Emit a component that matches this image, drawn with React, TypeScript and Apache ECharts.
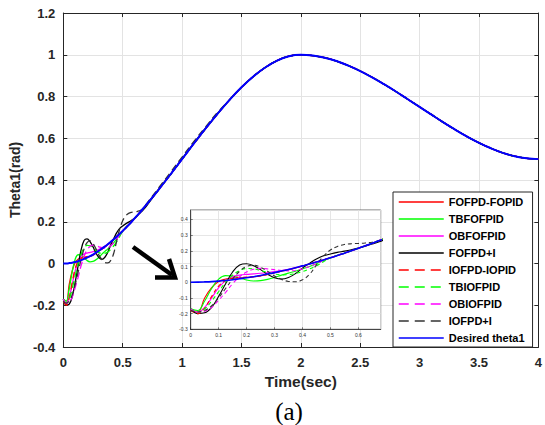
import React, { useEffect, useRef } from "react";
import * as echarts from "echarts";

// time grid (s)
const time = [
  0, 0.025, 0.05, 0.075, 0.1, 0.125, 0.15, 0.175, 0.2, 0.225, 0.25, 0.275, 0.3, 0.325, 0.35,
  0.375, 0.4, 0.425, 0.45, 0.475, 0.5, 0.525, 0.55, 0.575, 0.6, 0.625, 0.65, 0.675, 0.7,
  0.8, 0.9, 1.0, 1.1, 1.2, 1.3, 1.4, 1.5, 1.6, 1.7, 1.8, 1.9, 2.0,
  2.1, 2.2, 2.3, 2.4, 2.5, 2.6, 2.7, 2.8, 2.9, 3.0, 3.1, 3.2, 3.3, 3.4, 3.5, 3.6, 3.7, 3.8, 3.9, 4.0,
];

// Desired theta1
const desired = [
  0, 0.0005, 0.002, 0.004, 0.007, 0.011, 0.016, 0.022, 0.028, 0.035, 0.043, 0.052, 0.061, 0.071, 0.081,
  0.092, 0.104, 0.116, 0.129, 0.142, 0.156, 0.17, 0.185, 0.2, 0.216, 0.232, 0.248, 0.265, 0.282,
  0.352, 0.425, 0.5, 0.575, 0.648, 0.718, 0.784, 0.844, 0.896, 0.939, 0.972, 0.993, 1.0,
  0.996, 0.986, 0.97, 0.948, 0.922, 0.892, 0.859, 0.824, 0.787, 0.75, 0.713, 0.676, 0.641, 0.608, 0.578,
  0.552, 0.53, 0.514, 0.504, 0.5,
];

// controller responses (early transient; afterwards they lie on the desired curve)
const fofpdFopid = [-0.18, -0.19, -0.1, -0.035, 0.005, 0.02, 0.026, 0.028, 0.03, 0.034, 0.04, 0.05, 0.06, 0.07, 0.08, 0.091, 0.103];
const tbfofpid = [-0.17, -0.18, -0.12, -0.04, 0.02, 0.042, 0.04, 0.028, 0.014, 0.008, 0.01, 0.018, 0.03, 0.045, 0.058, 0.07, 0.085, 0.1, 0.118, 0.138, 0.155];
const obfofpid = [-0.18, -0.19, -0.16, -0.1, -0.035, 0.01, 0.035, 0.045, 0.05, 0.053, 0.057, 0.062, 0.068, 0.075, 0.083, 0.093, 0.104];
const fofpdI = [
  -0.17, -0.2, -0.195, -0.16, -0.09, -0.01, 0.065, 0.11, 0.118, 0.105, 0.08, 0.05, 0.028, 0.02, 0.03,
  0.055, 0.09, 0.12, 0.148, 0.168, 0.18, 0.19, 0.198, 0.207, 0.217, 0.23, 0.244, 0.258, 0.275,
];
const iofpdIopid = [-0.18, -0.2, -0.165, -0.09, -0.025, 0.01, 0.025, 0.03, 0.033, 0.036, 0.042, 0.05, 0.06, 0.07, 0.08, 0.091, 0.103];
const tbiofpid = [-0.17, -0.19, -0.17, -0.12, -0.06, 0.0, 0.045, 0.075, 0.087, 0.085, 0.075, 0.062, 0.052, 0.047, 0.048, 0.055, 0.068, 0.085, 0.105, 0.13, 0.155, 0.172];
const obiofpid = [-0.17, -0.19, -0.185, -0.16, -0.115, -0.065, -0.01, 0.035, 0.065, 0.082, 0.088, 0.085, 0.08, 0.075, 0.072, 0.075, 0.085, 0.1, 0.118, 0.138, 0.157];
const iofpdI = [
  -0.18, -0.19, -0.18, -0.15, -0.1, -0.04, 0.02, 0.07, 0.1, 0.108, 0.095, 0.07, 0.04, 0.018, 0.005,
  0.003, 0.015, 0.05, 0.11, 0.165, 0.205, 0.228, 0.24, 0.245, 0.247, 0.25, 0.255, 0.265, 0.285,
  0.36, 0.435, 0.51, 0.585, 0.656, 0.725,
];

const xTicks = { min: 0, max: 4, interval: 0.5 };
const yTicks = { min: -0.4, max: 1.2, interval: 0.2 };
const insetX = { min: 0, max: 0.68, interval: 0.1 };
const insetY = { min: -0.3, max: 0.46, interval: 0.1 };

const seriesDefs = [
  { name: "FOFPD-FOPID", vals: fofpdFopid, color: "#ff0000", type: "solid" },
  { name: "TBFOFPID", vals: tbfofpid, color: "#00ff00", type: "solid" },
  { name: "OBFOFPID", vals: obfofpid, color: "#ff00ff", type: "solid" },
  { name: "FOFPD+I", vals: fofpdI, color: "#000000", type: "solid" },
  { name: "IOFPD-IOPID", vals: iofpdIopid, color: "#ff0000", type: "dashed" },
  { name: "TBIOFPID", vals: tbiofpid, color: "#00ff00", type: "dashed" },
  { name: "OBIOFPID", vals: obiofpid, color: "#ff00ff", type: "dashed" },
  { name: "IOFPD+I", vals: iofpdI, color: "#333333", type: "dashed" },
  { name: "Desired theta1", vals: desired, color: "#0000ff", type: "solid" },
];

const FONT = "'Liberation Sans', Arial, Helvetica, sans-serif";

export default function App() {
  const ref = useRef<HTMLDivElement>(null);

  useEffect(() => {
    if (!ref.current) return;
    const chart = echarts.init(ref.current, undefined, { renderer: "svg" });

    const full = (vals: number[]) => time.map((t, i) => [t, i < vals.length ? vals[i] : desired[i]]);

    const series: any[] = [];
    seriesDefs.forEach((d) => {
      const isDesired = d.name === "Desired theta1";
      const ls = {
        color: d.color,
        width: isDesired ? 2 : 1.3,
        type: d.type === "dashed" ? [7, 4] : "solid",
      };
      series.push({
        name: d.name,
        type: "line",
        xAxisIndex: 0,
        yAxisIndex: 0,
        data: full(d.vals),
        smooth: 0.4,
        symbol: "none",
        showSymbol: false,
        lineStyle: ls,
        itemStyle: { color: d.color },
        z: 2,
      });
      series.push({
        name: d.name,
        type: "line",
        xAxisIndex: 1,
        yAxisIndex: 1,
        data: full(d.vals).slice(0, 31),
        smooth: 0.4,
        symbol: "none",
        showSymbol: false,
        lineStyle: { ...ls, width: isDesired ? 1.6 : 1.1, type: d.type === "dashed" ? [4, 3] : "solid" },
        itemStyle: { color: d.color },
        clip: true,
        z: 6,
      });
    });

    const mainLabel = { fontFamily: FONT, fontWeight: "bold", fontSize: 13, color: "#262626" };
    const insetLabel = { fontFamily: FONT, fontSize: 5, color: "#333" };

    chart.setOption({
      animation: false,
      backgroundColor: "#ffffff",
      grid: [
        { left: 62, top: 13, width: 480, height: 334, containLabel: false },
        {
          left: 190.7, top: 210, width: 190, height: 119.3,
          show: true, backgroundColor: "#ffffff", borderColor: "#444", borderWidth: 0.8, z: 4,
        },
      ],
      xAxis: [
        {
          type: "value", gridIndex: 0, ...xTicks,
          name: "Time(sec)", nameLocation: "middle", nameGap: 26,
          nameTextStyle: { fontFamily: FONT, fontWeight: "bold", fontSize: 15.5, color: "#262626" },
          axisLine: { onZero: false, lineStyle: { color: "#262626", width: 1 } },
          axisTick: { inside: true, length: 4, lineStyle: { color: "#262626" } },
          axisLabel: { ...mainLabel, margin: 9 },
          splitLine: { show: true, lineStyle: { color: "#e3e3e3", width: 1 } },
        },
        {
          type: "value", gridIndex: 1, ...insetX, z: 5,
          axisLine: { onZero: false, lineStyle: { color: "#222", width: 0.8 } },
          axisTick: { inside: true, length: 2, lineStyle: { color: "#222", width: 0.6 } },
          axisLabel: { ...insetLabel, margin: 3, showMaxLabel: false },
          splitLine: { show: true, lineStyle: { color: "#e0e0e0", width: 0.8 } },
        },
        {
          type: "value", gridIndex: 0, position: "top", ...xTicks,
          axisLine: { onZero: false, lineStyle: { color: "#262626", width: 1 } },
          axisTick: { inside: true, length: 4, lineStyle: { color: "#262626" } },
          axisLabel: { show: false },
          splitLine: { show: false },
        },
      ],
      yAxis: [
        {
          type: "value", gridIndex: 0, ...yTicks,
          name: "Theta1(rad)", nameLocation: "middle", nameGap: 37,
          nameTextStyle: { fontFamily: FONT, fontWeight: "bold", fontSize: 14, color: "#262626" },
          axisLine: { show: true, onZero: false, lineStyle: { color: "#262626", width: 1 } },
          axisTick: { show: true, inside: true, length: 4, lineStyle: { color: "#262626" } },
          axisLabel: { ...mainLabel, margin: 8 },
          splitLine: { show: true, lineStyle: { color: "#e3e3e3", width: 1 } },
        },
        {
          type: "value", gridIndex: 1, ...insetY, z: 5,
          axisLine: { show: true, onZero: false, lineStyle: { color: "#222", width: 0.8 } },
          axisTick: { show: true, inside: true, length: 2, lineStyle: { color: "#222", width: 0.6 } },
          axisLabel: { ...insetLabel, margin: 3, showMaxLabel: false },
          splitLine: { show: true, lineStyle: { color: "#e0e0e0", width: 0.8 } },
        },
        {
          type: "value", gridIndex: 0, position: "right", ...yTicks,
          axisLine: { show: true, onZero: false, lineStyle: { color: "#262626", width: 1 } },
          axisTick: { show: true, inside: true, length: 4, lineStyle: { color: "#262626" } },
          axisLabel: { show: false },
          splitLine: { show: false },
        },
      ],
      legend: {
        orient: "vertical",
        left: 393,
        top: 192,
        padding: [3, 8, 2, 5],
        itemWidth: 45,
        itemHeight: 14,
        itemGap: 3,
        itemStyle: { opacity: 0, color: "rgba(0,0,0,0)", borderWidth: 0 },
        lineStyle: { width: 1.5 },
        selectedMode: false,
        backgroundColor: "#ffffff",
        borderColor: "#262626",
        borderWidth: 1,
        z: 10,
        data: seriesDefs.map((d) =>
          d.type === "dashed"
            ? { name: d.name, lineStyle: { type: [10, 6], width: 1.5, color: d.color } }
            : { name: d.name }
        ),
        textStyle: { fontFamily: FONT, fontWeight: "bold", fontSize: 11, color: "#000", lineHeight: 14 },
      },
      graphic: [
        {
          type: "line", z: 20,
          shape: { x1: 133, y1: 247, x2: 172, y2: 275 },
          style: { stroke: "#000", lineWidth: 4.5 },
        },
        {
          type: "polyline", z: 20,
          shape: { points: [[155, 277.5], [175, 277.5], [169, 259]] },
          style: { stroke: "#000", lineWidth: 4.5, fill: "none", lineJoin: "miter" },
        },
        {
          type: "text", z: 20, x: 289, y: 411,
          style: {
            text: "(a)", fontFamily: "'Liberation Serif', 'Times New Roman', serif", fontSize: 25,
            fill: "#000", textAlign: "center", textVerticalAlign: "middle",
          },
        },
      ],
      series,
    });

    return () => chart.dispose();
  }, []);

  return (
    <div
      ref={ref}
      style={{ position: "fixed", left: 0, top: 0, width: 545, height: 425, background: "#fff" }}
    />
  );
}
